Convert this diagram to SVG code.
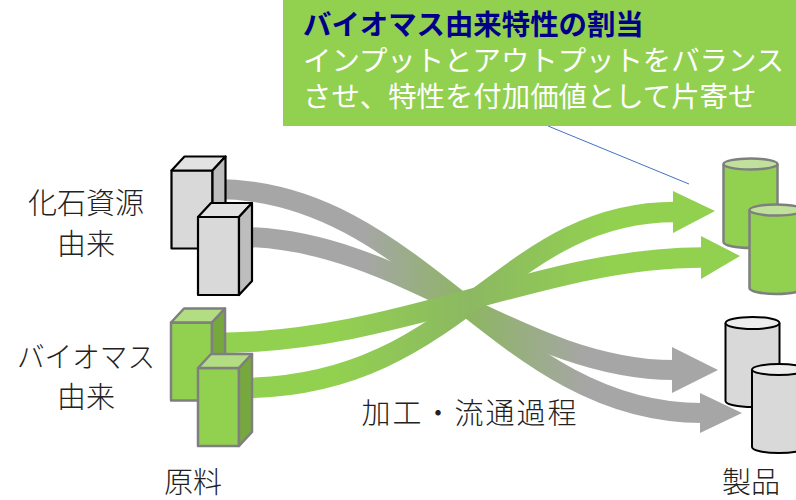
<svg xmlns="http://www.w3.org/2000/svg" width="796" height="500" viewBox="0 0 796 500">
  <defs>
    <style>
      .lbl { font-family: "Noto Sans CJK JP", "Noto Sans", sans-serif; font-size: 29px; font-weight: 300; fill: #222; }
      .call { font-family: "Noto Sans CJK JP", "Noto Sans", sans-serif; font-size: 28.4px; }
      .gray-box path, .gray-box rect { stroke: #000; stroke-width: 2.2; stroke-linejoin: round; }
      .gray-box .face { fill: #D9D9D9; }
      .gray-box .top { fill: #E2E2E2; }
      .gray-box .side { fill: #BDBDBD; }
      .green-box path, .green-box rect { stroke: #7F7F7F; stroke-width: 2.5; stroke-linejoin: round; }
      .green-box .face { fill: #92D050; }
      .green-box .top { fill: #B2DD82; }
      .green-box .side { fill: #76A83E; }
      .cyl-green .body { fill: #92D050; stroke: #7F7F7F; stroke-width: 2.5; }
      .cyl-green .lid { fill: #C0E19C; stroke: #7F7F7F; stroke-width: 2.5; }
      .cyl-gray .body { fill: #D9D9D9; stroke: #000; stroke-width: 2; }
      .cyl-gray .lid { fill: #EDEDED; stroke: #000; stroke-width: 2; }
      .band-gray { fill: none; stroke: url(#grayFlow); stroke-width: 20; }
      .band-green { fill: none; stroke: url(#greenFlow); stroke-width: 20.5; }
    </style>
    <linearGradient id="grayFlow" gradientUnits="userSpaceOnUse" x1="215" y1="0" x2="705" y2="0">
      <stop offset="0" stop-color="#A6A6A6"/>
      <stop offset="0.3" stop-color="#A6A6A6"/>
      <stop offset="0.52" stop-color="#8DB563"/>
      <stop offset="0.76" stop-color="#A6A6A6"/>
      <stop offset="1" stop-color="#A6A6A6"/>
    </linearGradient>
    <linearGradient id="greenFlow" gradientUnits="userSpaceOnUse" x1="215" y1="0" x2="705" y2="0">
      <stop offset="0" stop-color="#92D050"/>
      <stop offset="0.25" stop-color="#92D050"/>
      <stop offset="0.52" stop-color="#8CB862"/>
      <stop offset="0.8" stop-color="#92D050"/>
      <stop offset="1" stop-color="#92D050"/>
    </linearGradient>
  </defs>

  <rect width="796" height="500" fill="#fff"/>

  <!-- flow bands with arrowheads -->
  <g id="connectors">
    <path class="band-gray" d="M215 189 C420 189 500 413 702 413"/>
    <path class="band-gray" d="M240 237 C400 237 520 370 674 370"/>
    <polygon fill="#A6A6A6" points="672,347 718,370 672,393"/>
    <polygon fill="#A6A6A6" points="700,393 742,413 700,433"/>
    <path class="band-green" d="M240 388 C460 388 500 212 675 212"/>
    <path class="band-green" d="M215 343 C400 343 540 257.5 703 257.5"/>
    <polygon fill="#92D050" points="673,191 715,211 673,233"/>
    <polygon fill="#92D050" points="701,236 740,256 701,279"/>
  </g>

  <!-- fossil raw material: two cuboids, front face 41x78, depth (13,-14) -->
  <g id="fossil-source" class="gray-box">
    <g transform="translate(171.5 170.5)">
      <rect class="face" x="0" y="0" width="41" height="78"/>
      <path class="top" d="M0 0 L13 -14 H54 L41 0 Z"/>
      <path class="side" d="M41 0 L54 -14 V64 L41 78 Z"/>
    </g>
    <g transform="translate(198 217)">
      <rect class="face" x="0" y="0" width="41" height="78"/>
      <path class="top" d="M0 0 L13 -14 H54 L41 0 Z"/>
      <path class="side" d="M41 0 L54 -14 V64 L41 78 Z"/>
    </g>
  </g>

  <!-- biomass raw material -->
  <g id="biomass-source" class="green-box">
    <g transform="translate(171 322.5)">
      <rect class="face" x="0" y="0" width="41" height="78"/>
      <path class="top" d="M0 0 L13 -14 H54 L41 0 Z"/>
      <path class="side" d="M41 0 L54 -14 V64 L41 78 Z"/>
    </g>
    <g transform="translate(198 368)">
      <rect class="face" x="0" y="0" width="41" height="78"/>
      <path class="top" d="M0 0 L13 -14 H54 L41 0 Z"/>
      <path class="side" d="M41 0 L54 -14 V64 L41 78 Z"/>
    </g>
  </g>

  <!-- products with biomass attributes -->
  <g id="products-green" class="cyl-green">
    <path class="body" d="M723.5 164 V242 A27 6 0 0 0 777.5 242 V164"/>
    <ellipse class="lid" cx="750.5" cy="164" rx="27" ry="5.5"/>
    <path class="body" d="M749.5 210 V288 A27 6 0 0 0 803.5 288 V210"/>
    <ellipse class="lid" cx="776.5" cy="210" rx="27" ry="5.5"/>
  </g>

  <!-- products with fossil attributes -->
  <g id="products-gray" class="cyl-gray">
    <path class="body" d="M725.5 323 V401 A27 6 0 0 0 779.5 401 V323"/>
    <ellipse class="lid" cx="752.5" cy="323" rx="27" ry="6"/>
    <path class="body" d="M752 369.5 V447 A27 6 0 0 0 806 447 V369.5"/>
    <ellipse class="lid" cx="779" cy="369.5" rx="27" ry="5.5"/>
  </g>

  <!-- callout -->
  <g id="callout">
    <line x1="548" y1="126" x2="689" y2="184" stroke="#4472C4" stroke-width="1"/>
    <rect x="283" y="-1" width="514" height="127" fill="#92D050"/>
    <text class="call" x="303" y="35" fill="#00008B" font-weight="700">バイオマス由来特性の割当</text>
    <text class="call" x="303" y="71" fill="#fff">インプットとアウトプットをバランス</text>
    <text class="call" x="303" y="107" fill="#fff">させ、特性を付加価値として片寄せ</text>
  </g>

  <!-- labels -->
  <g id="labels" text-anchor="middle">
    <text class="lbl" x="86" y="214">化石資源</text>
    <text class="lbl" x="86" y="255">由来</text>
    <text class="lbl" x="86" y="368" textLength="138" lengthAdjust="spacingAndGlyphs">バイオマス</text>
    <text class="lbl" x="86" y="408">由来</text>
    <text class="lbl" x="193" y="493">原料</text>
    <text class="lbl" x="470" y="424" letter-spacing="2">加工・流通過程</text>
    <text class="lbl" x="751" y="493">製品</text>
  </g>
</svg>
